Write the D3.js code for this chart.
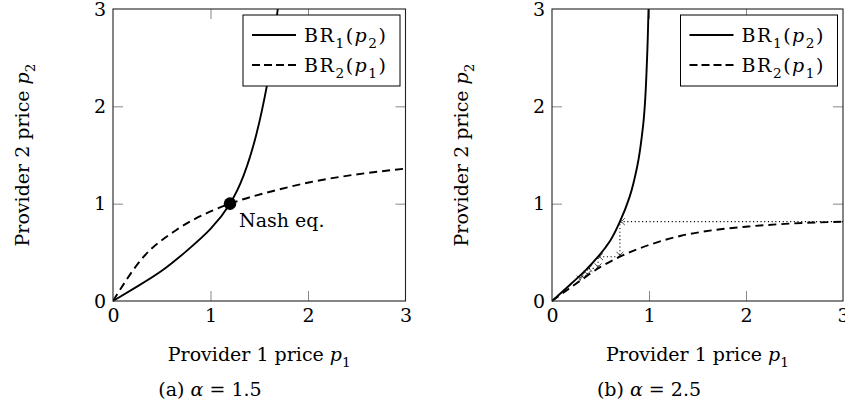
<!DOCTYPE html>
<html>
<head>
<meta charset="utf-8">
<script src="https://cdn.jsdelivr.net/npm/d3@7"></script>
<style>
  html, body { margin: 0; padding: 0; background: #fff; }
  svg { display: block; }
</style>
</head>
<body>
<svg id="chart" width="845" height="412"></svg>
<script>
// ---------- data ----------
const tickValues = [0, 1, 2, 3];

// (a) alpha = 1.5
const br1A_p2 = [0, 0.15, 0.31, 0.51, 0.74, 1.0, 1.29, 1.71, 2.22, 2.6, 3.0];
const br1A_p1 = [0, 0.25, 0.50, 0.75, 1.0, 1.2, 1.34, 1.47, 1.58, 1.64, 1.69];
const br2A_p1 = [0, 0.31, 0.65, 1.0, 1.2, 1.68, 2.02, 2.36, 3.0];
const br2A_p2 = [0, 0.45, 0.73, 0.92, 1.0, 1.14, 1.22, 1.28, 1.36];
const nashA = [1.2, 1.0];

// (b) alpha = 2.5
const br1B_p2 = [0, 0.18, 0.32, 0.455, 0.62, 0.815, 1.07, 1.39, 1.81, 2.49, 3.0];
const br1B_p1 = [0, 0.20, 0.35, 0.475, 0.60, 0.70, 0.80, 0.88, 0.94, 0.98, 0.995];
const br2B_p1 = [0, 0.30, 0.475, 0.70, 1.0, 1.33, 1.68, 2.02, 2.36, 3.0];
const br2B_p2 = [0, 0.215, 0.335, 0.455, 0.575, 0.67, 0.73, 0.765, 0.79, 0.815];
// best-response iteration (cobweb), starting at p1 = 3
const cobB_p1 = [3.0, 0.70, 0.70, 0.475, 0.475, 0.365, 0.365, 0.29, 0.29];
const cobB_p2 = [0.815, 0.815, 0.455, 0.455, 0.335, 0.335, 0.26, 0.26, 0.21];

const captionLetters = ["(a)", "(b)"];
const alphaValues = ["1.5", "2.5"];

// ---------- drawing ----------
const FONT = "'DejaVu Serif', 'Liberation Serif', serif";
const FS = 19;
const svg = d3.select("#chart");

function rich(parent, segs, size) {
  const text = parent.append("text")
    .attr("font-family", FONT)
    .attr("font-size", size)
    .attr("fill", "#000");
  let shifted = 0;
  segs.forEach(s => {
    const ts = text.append("tspan").text(s.t);
    if (s.i) ts.attr("font-style", "italic");
    const want = s.sub ? size * 0.3 : 0;
    if (want !== shifted) { ts.attr("dy", want - shifted); shifted = want; }
    if (s.sub) ts.attr("font-size", size * 0.72);
  });
  return text;
}

const panels = [
  { left: 113, right: 405.5, top: 9, bottom: 301,
    br1: { p2: br1A_p2, p1: br1A_p1 }, br2: { p1: br2A_p1, p2: br2A_p2 }, br1Curve: d3.curveNatural,
    nash: nashA, cob: null, cap: 0, capX: 210 },
  { left: 552, right: 843, top: 9, bottom: 301,
    br1: { p2: br1B_p2, p1: br1B_p1 }, br2: { p1: br2B_p1, p2: br2B_p2 }, br1Curve: d3.curveMonotoneY,
    nash: null, cob: { p1: cobB_p1, p2: cobB_p2 }, cap: 1, capX: 649 }
];

panels.forEach((P, idx) => {
  const x = d3.scaleLinear().domain([0, 3]).range([P.left, P.right]);
  const y = d3.scaleLinear().domain([0, 3]).range([P.bottom, P.top]);
  const g = svg.append("g");
  const clipId = "clip" + idx;
  svg.append("clipPath").attr("id", clipId).append("rect")
    .attr("x", P.left).attr("y", P.top - 1)
    .attr("width", P.right - P.left).attr("height", P.bottom - P.top + 2);

  // axes (ticks pointing inward on all sides)
  const tickLen = 10;
  const styleAxis = a => {
    a.select(".domain").remove();
    a.selectAll(".tick line").attr("stroke", "#888").attr("stroke-width", 1)
      .filter(d => d === 0 || d === 3).remove();
    a.selectAll("text").attr("font-family", FONT).attr("font-size", FS).attr("fill", "#000");
  };
  g.append("g").attr("transform", `translate(0,${P.bottom})`)
    .call(d3.axisBottom(x).tickValues(tickValues).tickSize(-tickLen).tickPadding(8).tickFormat(d3.format("d")))
    .call(styleAxis);
  g.append("g").attr("transform", `translate(${P.left},0)`)
    .call(d3.axisLeft(y).tickValues(tickValues).tickSize(-tickLen).tickPadding(7).tickFormat(d3.format("d")))
    .call(styleAxis);
  g.append("g").attr("transform", `translate(0,${P.top})`)
    .call(d3.axisTop(x).tickValues(tickValues).tickSize(-tickLen).tickFormat(""))
    .call(styleAxis);
  g.append("g").attr("transform", `translate(${P.right},0)`)
    .call(d3.axisRight(y).tickValues(tickValues).tickSize(-tickLen).tickFormat(""))
    .call(styleAxis);

  const plot = g.append("g").attr("clip-path", `url(#${clipId})`);

  // cobweb (dotted) with small arrowheads
  if (P.cob) {
    const pts = P.cob.p1.map((v, i) => [x(v), y(P.cob.p2[i])]);
    plot.append("path").attr("d", d3.line()(pts))
      .attr("fill", "none").attr("stroke", "#000").attr("stroke-width", 1.1)
      .attr("stroke-dasharray", "1.1,2.6");
    for (let i = 1; i < pts.length; i++) {
      const [x0, y0] = pts[i - 1], [x1, y1] = pts[i];
      const ang = Math.atan2(y1 - y0, x1 - x0);
      const L = 5, W = 3.5;
      const bx = x1 - L * Math.cos(ang), by = y1 - L * Math.sin(ang);
      const nx = -Math.sin(ang), ny = Math.cos(ang);
      const qx = x1 - 2 * Math.cos(ang), qy = y1 - 2 * Math.sin(ang);
      plot.append("path")
        .attr("d", `M${bx + nx * W},${by + ny * W} Q${qx},${qy} ${x1},${y1} Q${qx},${qy} ${bx - nx * W},${by - ny * W}`)
        .attr("fill", "none").attr("stroke", "#000").attr("stroke-width", 0.7);
    }
  }

  // BR2 (dashed): p2 as a function of p1
  plot.append("path")
    .attr("d", d3.line().curve(d3.curveMonotoneX)(P.br2.p1.map((v, i) => [x(v), y(P.br2.p2[i])])))
    .attr("fill", "none").attr("stroke", "#000").attr("stroke-width", 1.9)
    .attr("stroke-dasharray", "8,5");
  // BR1 (solid): p1 as a function of p2
  plot.append("path")
    .attr("d", d3.line().curve(P.br1Curve)(P.br1.p2.map((v, i) => [x(P.br1.p1[i]), y(v)])))
    .attr("fill", "none").attr("stroke", "#000").attr("stroke-width", 1.9);

  if (P.nash) {
    plot.append("circle").attr("cx", x(P.nash[0])).attr("cy", y(P.nash[1])).attr("r", 6.3).attr("fill", "#000");
    g.append("text").attr("x", x(P.nash[0]) + 9).attr("y", y(P.nash[1]) + 23)
      .attr("font-family", FONT).attr("font-size", FS).text("Nash eq.");
  }

  // frame
  g.append("rect").attr("x", P.left).attr("y", P.top)
    .attr("width", P.right - P.left).attr("height", P.bottom - P.top)
    .attr("fill", "none").attr("stroke", "#222").attr("stroke-width", 1.1);

  // legend
  const lw = 157, lh = 71;
  const lx = P.right - 5.5 - lw, ly = P.top + 6;
  const leg = g.append("g");
  leg.append("rect").attr("x", lx).attr("y", ly).attr("width", lw).attr("height", lh)
    .attr("fill", "#fff").attr("stroke", "#000").attr("stroke-width", 1);
  const rows = [
    { dash: null, segs: [{ t: "BR" }, { t: "1", sub: true }, { t: "(" }, { t: "p", i: true }, { t: "2", sub: true }, { t: ")" }] },
    { dash: "8,4", segs: [{ t: "BR" }, { t: "2", sub: true }, { t: "(" }, { t: "p", i: true }, { t: "1", sub: true }, { t: ")" }] }
  ];
  rows.forEach((r, k) => {
    const cy = ly + 20 + k * 30;
    const l = leg.append("line").attr("x1", lx + 9).attr("x2", lx + 53).attr("y1", cy).attr("y2", cy)
      .attr("stroke", "#000").attr("stroke-width", 1.9);
    if (r.dash) l.attr("stroke-dasharray", r.dash);
    rich(leg, r.segs, FS).attr("x", lx + 61).attr("y", cy + 7).attr("textLength", 82);
  });

  // axis titles
  const cx = (P.left + P.right) / 2;
  rich(g, [{ t: "Provider 1 price " }, { t: "p", i: true }, { t: "1", sub: true }], FS)
    .attr("text-anchor", "middle").attr("x", cx).attr("y", 361);
  rich(g, [{ t: "Provider 2 price " }, { t: "p", i: true }, { t: "2", sub: true }], FS)
    .attr("text-anchor", "middle")
    .attr("transform", `translate(${P.left - 84},${(P.top + P.bottom) / 2}) rotate(-90)`);

  // caption
  rich(g, [{ t: captionLetters[P.cap] + " " }, { t: "α", i: true }, { t: " = " + alphaValues[P.cap] }], FS)
    .attr("text-anchor", "middle").attr("x", P.capX).attr("y", 396);
});
</script>
</body>
</html>
